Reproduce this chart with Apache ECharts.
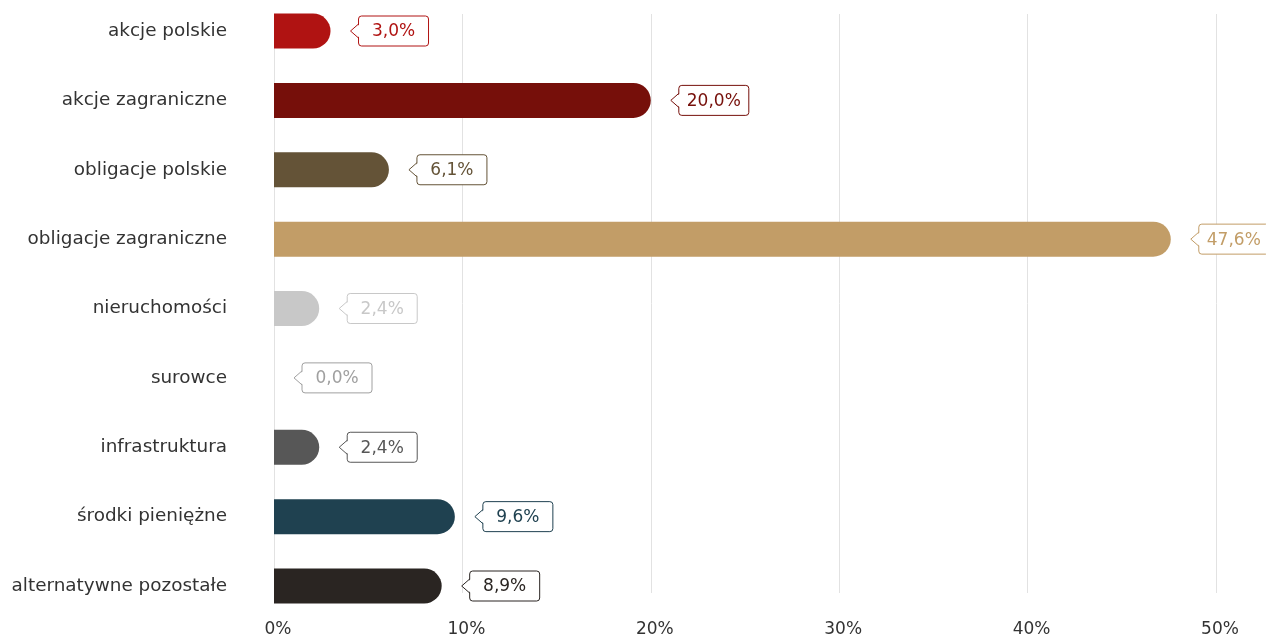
<!DOCTYPE html>
<html>
<head>
<meta charset="utf-8">
<script src="https://cdn.jsdelivr.net/npm/echarts@6/dist/echarts.min.js"></script>
<style>
html,body{margin:0;padding:0;background:#fff;}
#chart{width:1266px;height:638px;}
</style>
</head>
<body>
<div id="chart"></div>
<script>
const categories = ['akcje polskie','akcje zagraniczne','obligacje polskie','obligacje zagraniczne','nieruchomości','surowce','infrastruktura','środki pieniężne','alternatywne pozostałe'];
const values = [3.0, 20.0, 6.1, 47.6, 2.4, 0.0, 2.4, 9.6, 8.9];
const barColors = ['#b01312','#760f0a','#645337','#c29d67','#c8c8c8','#aaaaaa','#575757','#1f4150','#2a2522'];
const labelColors = ['#b01312','#760f0a','#645337','#c29d67','#c8c8c8','#a0a0a0','#575757','#1f4150','#2a2522'];
const xTicks = [0, 10, 20, 30, 40, 50];

const FONT = '"DejaVu Sans", sans-serif';
const chart = echarts.init(document.getElementById('chart'), null, {renderer:'canvas'});

function fmt(v){ return v.toFixed(1).replace('.', ',') + '%'; }

const option = {
  animation: false,
  backgroundColor: '#fff',
  grid: [
    {left: 274, right: 50, top: 31, height: 555, containLabel: false},
    {left: 274, right: 50, top: 14, bottom: 35, containLabel: false}
  ],
  xAxis: [
    {gridIndex: 0, type: 'value', min: xTicks[0], max: xTicks[xTicks.length-1], interval: 10, show: false},
    {gridIndex: 1, type: 'value', min: xTicks[0], max: xTicks[xTicks.length-1], interval: 10,
     axisLine: {show: false}, axisTick: {show: false},
     splitLine: {show: true, lineStyle: {color: '#e2e2e2', width: 1}},
     axisLabel: {formatter: v => v + '%', color: '#333', fontFamily: FONT, fontSize: 17, margin: 28, padding: [0, 0, 0, 8]}}
  ],
  yAxis: [
    {gridIndex: 0, type: 'category', data: categories, inverse: true, boundaryGap: false,
     axisLine: {show: false}, axisTick: {show: false}, splitLine: {show: false},
     axisLabel: {color: '#333', fontFamily: FONT, fontSize: 18.4, margin: 47}},
    {gridIndex: 1, type: 'value', show: false}
  ],
  series: [
    {
      type: 'bar', xAxisIndex: 0, yAxisIndex: 0, barWidth: 35, z: 3,
      data: values.map((v, i) => ({value: v, itemStyle: {color: barColors[i], borderRadius: [0, 17.5, 17.5, 0]}}))
    },
    {
      type: 'custom', xAxisIndex: 0, yAxisIndex: 0, z: 4, clip: false,
      data: values.map((v, i) => [v, i]),
      renderItem: function(params, api){
        const v = api.value(0), idx = api.value(1);
        const p = api.coord([v, idx]);
        const col = labelColors[idx];
        const tip = p[0] + 20, left = p[0] + 28, w = 70, h = 30;
        const top = p[1] - h/2;
        return {
          type: 'group',
          children: [
            {type: 'rect', shape: {x: left, y: top, width: w, height: h, r: 3},
             style: {fill: '#fff', stroke: col, lineWidth: 1}},
            {type: 'polygon', shape: {points: [[left+1.5, p[1]-7], [tip, p[1]], [left+1.5, p[1]+7]]},
             style: {fill: '#fff', stroke: null}},
            {type: 'polyline', shape: {points: [[left, p[1]-7], [tip, p[1]], [left, p[1]+7]]},
             style: {fill: null, stroke: col, lineWidth: 1}},
            {type: 'text', style: {text: fmt(v), x: left + w/2, y: p[1] + 1, align: 'center', verticalAlign: 'middle',
             fill: col, font: '17px ' + FONT}}
          ]
        };
      }
    }
  ]
};
chart.setOption(option);
</script>
</body>
</html>
